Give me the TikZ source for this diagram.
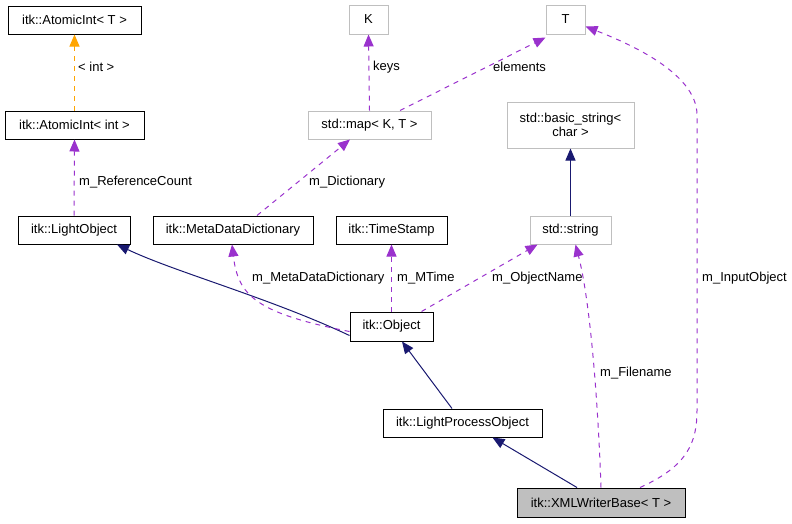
\documentclass[tikz,border=0pt]{standalone}
\usepackage{fontspec}
\setmainfont{Liberation Sans}
\usetikzlibrary{arrows.meta}
\definecolor{navyc}{HTML}{191970}
\definecolor{purp}{HTML}{9A32CD}
\definecolor{orng}{HTML}{FFA500}
\definecolor{greyb}{HTML}{BFBFBF}
\tikzset{
  cls/.style={draw=black, line width=1pt, inner sep=0pt, font=\fontsize{13}{15}\selectfont},
  ext/.style={draw=greyb, line width=1pt, inner sep=0pt, font=\fontsize{13}{15}\selectfont},
  lbl/.style={anchor=west, inner sep=0pt, font=\fontsize{13}{15}\selectfont},
  tip/.style={-{Triangle[length=12pt,width=10pt]}},
  inh/.style={tip, draw=navyc, line width=1pt},
  use/.style={tip, draw=purp, line width=1pt, dash pattern=on 5pt off 5pt},
  tmpl/.style={tip, draw=orng, line width=1pt, dash pattern=on 5pt off 5pt},
}
\begin{document}
\begin{tikzpicture}[x=1pt,y=-1pt]
\useasboundingbox (0,0) rectangle (792,523);
% nodes
\node[cls, minimum width=133pt, minimum height=28pt] (aT) at (74.5,20) {itk::AtomicInt< T >};
\node[cls, minimum width=139pt, minimum height=28pt] (aI) at (74.5,125) {itk::AtomicInt< int >};
\node[ext, minimum width=39pt, minimum height=29pt] (K) at (368.5,19.5) {K};
\node[ext, minimum width=123pt, minimum height=28pt] (map) at (369.5,125) {std::map< K, T >};
\node[ext, minimum width=39pt, minimum height=29pt] (T) at (565.5,19.5) {T};
\node[ext, minimum width=127pt, minimum height=46pt, align=center] (bs) at (570.5,125) {std::basic\_string<\\[-1pt]char >};
\node[cls, minimum width=112pt, minimum height=28pt] (lo) at (74,230) {itk::LightObject};
\node[cls, minimum width=160pt, minimum height=28pt] (mdd) at (233,230) {itk::MetaDataDictionary};
\node[cls, minimum width=111pt, minimum height=28pt] (ts) at (391.5,230) {itk::TimeStamp};
\node[ext, minimum width=81pt, minimum height=28pt] (str) at (570.5,230) {std::string};
\node[cls, minimum width=83pt, minimum height=29pt] (obj) at (391.5,326.5) {itk::Object};
\node[cls, minimum width=159pt, minimum height=28pt] (lpo) at (462.5,423) {itk::LightProcessObject};
\node[cls, fill=greyb, minimum width=168pt, minimum height=29pt] (xml) at (601,502.5) {itk::XMLWriterBase< T >};
% edges
\draw[tmpl] (aI.north) -- (aT.south);
\node[lbl] (l1) at (78,67) {< int >};
\draw[use] (lo.north) -- (aI.south);
\node[lbl] (l2) at (79,182) {m\_ReferenceCount};
\draw[use] (map.north) -- (K.south);
\node[lbl] (l3) at (373,67) {keys};
\draw[use] ([xshift=30.5pt]map.north) -- ([yshift=-3pt]T.south west);
\node[lbl] (l4) at (493,67) {elements};
\draw[use] ([xshift=24pt]mdd.north) -- ([xshift=-19.5pt]map.south);
\node[lbl] (l5) at (309,182) {m\_Dictionary};
\draw[inh] (bs.south |- str.north) -- (bs.south);
\draw[inh] ([yshift=-9pt]obj.west) .. controls (270,298) and (175,272) .. ([xshift=43pt]lo.south);
\draw[use] ([yshift=-5pt]obj.west) .. controls (255,313) and (238,295) .. ([xshift=-1pt]mdd.south);
\node[lbl] (l6) at (252,278) {m\_MetaDataDictionary};
\draw[use] (obj.north) -- (ts.south);
\node[lbl] (l7) at (397,278) {m\_MTime};
\draw[use] ([xshift=30pt]obj.north) -- ([xshift=-33pt]str.south);
\node[lbl] (l8) at (492,278) {m\_ObjectName};
\draw[inh] ([xshift=-10.5pt]lpo.north) -- ([xshift=10.5pt]obj.south);
\draw[inh] ([xshift=-24pt]xml.north) -- ([xshift=30pt]lpo.south);
\draw[use] (xml.north) .. controls (598,400) and (590,300) .. ([xshift=5pt]str.south);
\node[lbl] (l9) at (600,373) {m\_Filename};
\draw[use] ([xshift=39pt]xml.north) .. controls (688,466) and (697,442) .. (697,410) -- (697,115) .. controls (697,72) and (625,42) .. ([yshift=-7pt]T.east);
\node[lbl] (l10) at (702,278) {m\_InputObject};
\end{tikzpicture}
\end{document}
